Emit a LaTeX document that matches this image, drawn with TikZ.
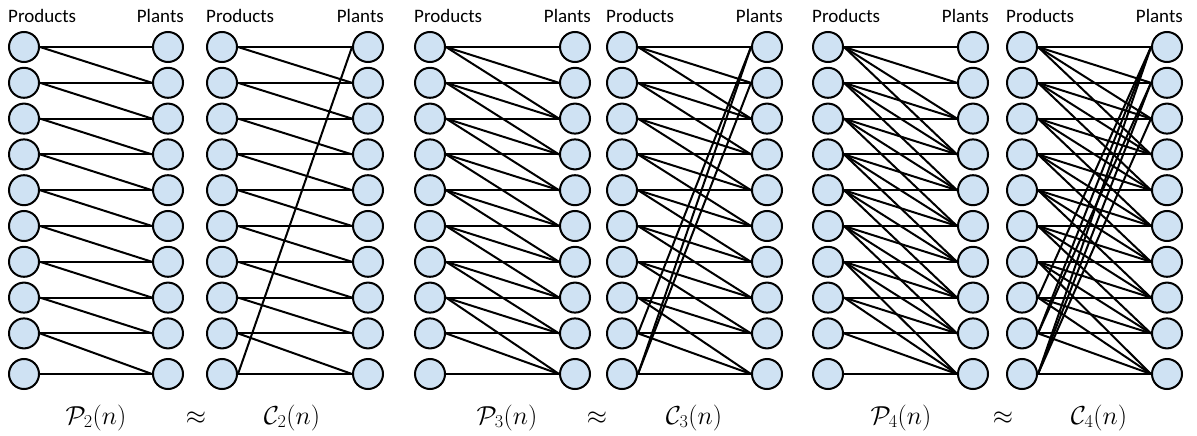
\RequirePackage{fix-cm}
\documentclass[tikz,border=0pt]{standalone}
\usepackage{fontspec}
\newfontfamily\labfont{Carlito}
\definecolor{nodeblue}{RGB}{207,226,243}
\begin{document}
\begin{tikzpicture}[x=1pt,y=-1pt,
  vert/.style={circle,draw=black,line width=2pt,fill=nodeblue,minimum size=30pt,inner sep=0pt},
  link/.style={line width=2pt,black},
  hdr/.style={font=\labfont\fontsize{19}{21}\selectfont,inner sep=0pt},
  lab/.style={font=\fontsize{26}{31}\selectfont,inner sep=0pt,anchor=base}]
\useasboundingbox (0,0) rectangle (1197,436);
\foreach \n/\lx/\rx/\k/\cyc in {1/24/168/2/0, 2/222/368/2/1, 3/430/575/3/0, 4/622/767/3/1, 5/828/973/4/0, 6/1022/1167/4/1}{
  \node[hdr,anchor=base west] (hp\n) at (\lx-16,23) {Products};
  \node[hdr,anchor=base east] (hq\n) at (\rx+16,23) {Plants};
  \foreach \i in {1,...,10}{
    \pgfmathsetmacro\yy{\i<10 ? 47+35.8*(\i-1) : 374}
    \node[vert] (p\n-\i) at (\lx,\yy) {};
    \node[vert] (q\n-\i) at (\rx,\yy) {};
  }
  \pgfmathtruncatemacro\km{\k-1}
  \foreach \i in {1,...,10}{
    \foreach \d in {0,...,\km}{
      \pgfmathtruncatemacro\j{\cyc==1 ? mod(\i+\d-1,10)+1 : \i+\d}
      \ifnum\j>10 \else
        \draw[link] (p\n-\i.east) -- (q\n-\j.west);
      \fi
    }
  }
}
\node[lab] (m1) at (96,424) {$\mathcal{P}_2(n)$};
\node[lab] (a1) at (196,424) {$\approx$};
\node[lab] (m2) at (292,424) {$\mathcal{C}_2(n)$};
\node[lab] (m3) at (507,424) {$\mathcal{P}_3(n)$};
\node[lab] (a2) at (597,424) {$\approx$};
\node[lab] (m4) at (694,424) {$\mathcal{C}_3(n)$};
\node[lab] (m5) at (901,424) {$\mathcal{P}_4(n)$};
\node[lab] (a3) at (1003,424) {$\approx$};
\node[lab] (m6) at (1099,424) {$\mathcal{C}_4(n)$};
\end{tikzpicture}
\end{document}
